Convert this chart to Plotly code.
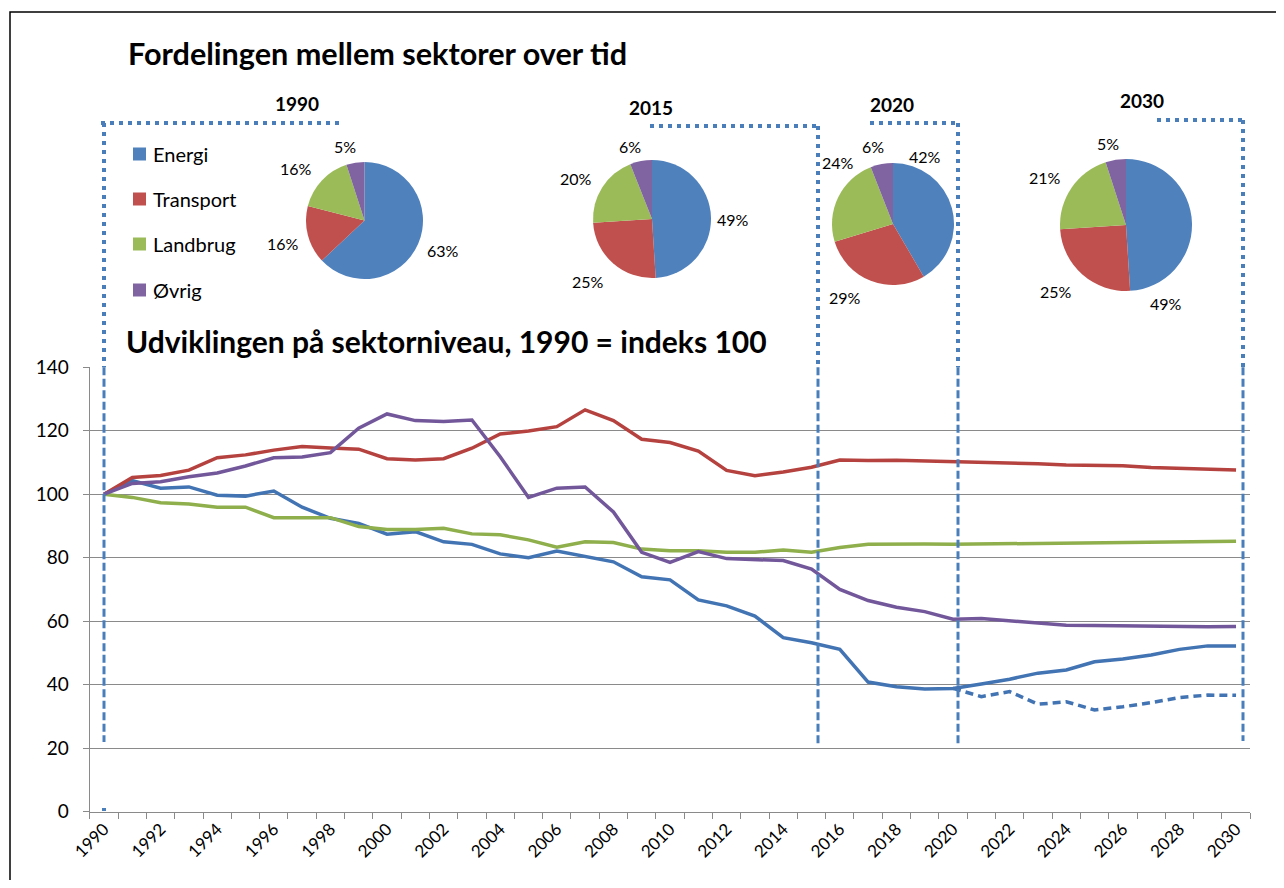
import plotly.graph_objects as go

# page body adds an 8px margin; figure is sized so it fills the 1284x888 window
OFF = 8
W, H = 1284 - 2 * OFF, 888 - 2 * OFF

years = list(range(1990, 2031))
energi = [100, 104.3, 101.9, 102.3, 99.7, 99.4, 101.0, 95.9, 92.4, 90.8,
          87.4, 88.2, 85.0, 84.2, 81.2, 80.0, 82.1, 80.5, 78.7, 74.0,
          73.0, 66.7, 64.8, 61.6, 54.8, 53.2, 51.1, 40.8, 39.3, 38.6,
          38.8, 40.2, 41.7, 43.6, 44.6, 47.2, 48.1, 49.3, 51.1, 52.2, 52.2]
energi_alt = [None] * 30 + [38.8, 36.2, 37.8, 33.8, 34.6, 32.0, 33.0, 34.3, 35.9, 36.7, 36.6]
transport = [100, 105.3, 105.9, 107.6, 111.5, 112.4, 113.9, 115.0, 114.6, 114.2,
             111.2, 110.8, 111.2, 114.5, 119.0, 119.9, 121.3, 126.6, 123.2, 117.3,
             116.3, 113.6, 107.5, 105.8, 107.0, 108.5, 110.8, 110.6, 110.7, 110.5,
             110.4, 110.1, 109.8, 109.6, 109.2, 109.0, 109.0, 108.4, 108.2, 108.0, 107.6]
landbrug = [100, 99.0, 97.3, 96.9, 95.9, 95.9, 92.6, 92.6, 92.6, 89.8,
            88.9, 88.9, 89.3, 87.5, 87.2, 85.6, 83.3, 85.0, 84.8, 82.7,
            82.2, 82.2, 81.7, 81.7, 82.4, 81.7, 83.2, 84.2, 84.3, 84.3,
            84.2, 84.3, 84.4, 84.5, 84.6, 84.7, 84.8, 84.8, 84.9, 85.0, 85.2]
ovrig = [100, 103.4, 103.9, 105.5, 106.7, 108.9, 111.5, 111.7, 113.1, 120.8,
         125.3, 123.2, 122.9, 123.4, 111.8, 99.0, 101.9, 102.3, 94.4, 81.7,
         78.5, 81.9, 79.7, 79.3, 79.1, 76.4, 70.0, 66.5, 64.4, 63.0,
         60.6, 60.8, 60.1, 59.3, 58.7, 58.6, 58.5, 58.3, 58.3, 58.2, 58.3]

sectors = ["Energi", "Transport", "Landbrug", "Øvrig"]
pie_years = ["1990", "2015", "2020", "2030"]
pie_shares = {
    "1990": [63, 16, 16, 5],
    "2015": [49, 25, 20, 6],
    "2020": [42, 29, 24, 6],
    "2030": [49, 25, 21, 5],
}
xtick_years = list(range(1990, 2031, 2))

pie_colors = ["#4F81BD", "#C0504D", "#9BBB59", "#8064A2"]
line_colors = ["#4273B3", "#B5423F", "#8EAF4C", "#73579B"]
FONT = "Lato"


def px(x):
    return (x - OFF) / W


def py(y):
    return 1 - (y - OFF) / H


fig = go.Figure()

for name, vals, col in [("Energi", energi, line_colors[0]),
                        ("Transport", transport, line_colors[1]),
                        ("Landbrug", landbrug, line_colors[2]),
                        ("Øvrig", ovrig, line_colors[3])]:
    fig.add_trace(go.Scatter(x=years, y=vals, mode="lines", name=name,
                             line=dict(color=col, width=3.5), showlegend=False))
fig.add_trace(go.Scatter(x=years, y=energi_alt, mode="lines", name="Energi (alt.)",
                         line=dict(color=line_colors[0], width=3.5, dash="8px,5px"),
                         showlegend=False))

# pie geometry (centre x, centre y, radius in window pixels)
pie_geo = {
    "1990": (364.5, 220.5, 58.5),
    "2015": (652, 219, 59),
    "2020": (893, 224, 61),
    "2030": (1126, 225, 66),
}
# data-label positions (window pixels), one per slice in sector order
label_pos = {
    "1990": [(443, 250), (283, 243), (296, 168), (345, 146)],
    "2015": [(733, 219), (588, 281), (576, 179), (630, 146)],
    "2020": [(925, 157), (845, 297), (838, 163), (873, 147)],
    "2030": [(1166, 304), (1056, 291), (1045, 177), (1108, 143)],
}
for yr in pie_years:
    cx, cy, r = pie_geo[yr]
    vals = pie_shares[yr]
    fig.add_trace(go.Pie(
        labels=sectors, values=vals, sort=False, direction="clockwise", rotation=0,
        marker=dict(colors=pie_colors, line=dict(width=0)),
        textinfo="none",
        domain=dict(x=[px(cx - r), px(cx + r)], y=[py(cy + r), py(cy - r)]),
        showlegend=False, hoverinfo="label+percent", automargin=False,
    ))

x0p, x1p = 89.85, 1250.2
ytop, ybot = 367.3, 811.5
gray = "#8A8A8A"

fig.update_layout(
    template="none",
    width=W, height=H, margin=dict(l=0, r=0, t=0, b=0, autoexpand=False),
    paper_bgcolor="white", plot_bgcolor="white",
    font=dict(family=FONT, color="#000"),
    xaxis=dict(domain=[px(x0p), px(x1p)], range=[1989.5, 2030.5], automargin=False,
               tickvals=xtick_years, ticktext=[str(y) for y in xtick_years],
               tickangle=-45, ticks="", showgrid=False, zeroline=False,
               showline=True, linecolor=gray, linewidth=1.3,
               tickfont=dict(family=FONT, size=17, color="#000"),
               minor=dict(tickvals=[1989.5 + i for i in range(42)], ticks="outside",
                          ticklen=6, tickcolor=gray, tickwidth=1.3, showgrid=False)),
    yaxis=dict(domain=[py(ybot), py(ytop)], range=[0, 140], dtick=20, automargin=False,
               ticks="outside", ticklen=6, tickcolor=gray, tickwidth=1.3,
               showline=True, linecolor=gray, linewidth=1.3,
               showgrid=True, gridcolor=gray, gridwidth=1.3, zeroline=False,
               ticklabelstandoff=10,
               tickfont=dict(family=FONT, size=19, color="#000")),
)

shapes = []
shapes.append(dict(type="rect", xref="paper", yref="paper",
                   x0=px(10), x1=px(1300), y0=py(900), y1=py(12),
                   line=dict(color="#000", width=1.5), fillcolor="rgba(0,0,0,0)", layer="below"))

blue = "#4A7EBB"
dot = dict(color=blue, width=4, dash="4px,5px")
dash = dict(color=blue, width=3, dash="8px,3.5px")
frames = [
    (101, 343, 123, 104, 742),
    (650, 818, 126, 818, 744),
    (870, 958, 123, 958, 744),
    (1157, 1243, 120, 1243, 741),
]
for xl, xr, yt, xv, ye in frames:
    shapes.append(dict(type="line", xref="paper", yref="paper",
                       x0=px(xl), x1=px(xr), y0=py(yt), y1=py(yt), line=dot))
    shapes.append(dict(type="line", xref="paper", yref="paper",
                       x0=px(xv), x1=px(xv), y0=py(yt), y1=py(ytop), line=dot))
    shapes.append(dict(type="line", xref="paper", yref="paper",
                       x0=px(xv), x1=px(xv), y0=py(ytop), y1=py(ye), line=dash))
shapes.append(dict(type="line", xref="paper", yref="paper",
                   x0=px(104), x1=px(104), y0=py(808), y1=py(811), line=dict(color=blue, width=4)))

leg_y = [154, 199, 244, 290]
for yy, col in zip(leg_y, pie_colors):
    shapes.append(dict(type="rect", xref="paper", yref="paper",
                       x0=px(133), x1=px(146), y0=py(yy + 6.5), y1=py(yy - 6.5),
                       fillcolor=col, line=dict(width=0)))
fig.update_layout(shapes=shapes)

ann = []
ann.append(dict(text="<b>Fordelingen mellem sektorer over tid</b>", x=px(126), y=py(53),
                xref="paper", yref="paper", xanchor="left", yanchor="middle",
                showarrow=False, font=dict(family=FONT, size=30.6, color="#000")))
ann.append(dict(text="<b>Udviklingen på sektorniveau, 1990 = indeks 100</b>", x=px(124), y=py(341),
                xref="paper", yref="paper", xanchor="left", yanchor="middle",
                showarrow=False, font=dict(family=FONT, size=30, color="#000")))
year_pos = {"1990": (297, 103), "2015": (651, 107), "2020": (892, 104), "2030": (1142, 100)}
for yr in pie_years:
    xx, yy = year_pos[yr]
    ann.append(dict(text=f"<b>{yr}</b>", x=px(xx), y=py(yy), xref="paper", yref="paper",
                    xanchor="center", yanchor="middle", showarrow=False,
                    font=dict(family=FONT, size=19, color="#000")))
    for (lx, ly), v in zip(label_pos[yr], pie_shares[yr]):
        ann.append(dict(text=f"{v}%", x=px(lx), y=py(ly), xref="paper", yref="paper",
                        xanchor="center", yanchor="middle", showarrow=False,
                        font=dict(family=FONT, size=16, color="#000")))
for yy, name in zip(leg_y, sectors):
    ann.append(dict(text=name, x=px(151), y=py(yy), xref="paper", yref="paper",
                    xanchor="left", yanchor="middle", showarrow=False,
                    font=dict(family=FONT, size=20, color="#000")))
fig.update_layout(annotations=ann)

fig.write_html("out.html")
